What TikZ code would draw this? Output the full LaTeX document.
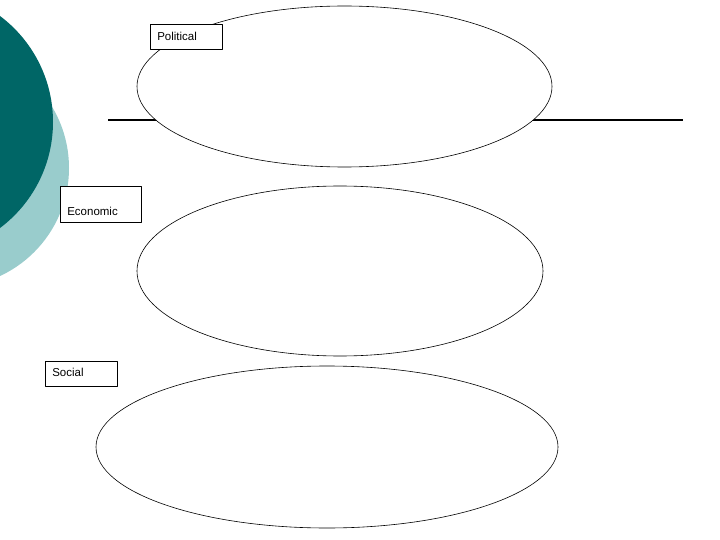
\documentclass[tikz,border=0pt]{standalone}
\usepackage{fontspec}
\setmainfont{Liberation Sans}
\definecolor{tealdark}{RGB}{0,102,102}
\definecolor{teallight}{RGB}{153,204,204}
\begin{document}
\begin{tikzpicture}[x=1pt, y=-1pt, font=\fontsize{11.5}{13}\selectfont, line join=round,
			tag/.style={draw, fill=white, line width=0.6pt, inner ysep=0pt, inner xsep=7pt, anchor=north west, align=left},
			blob/.style={draw, fill=white, line width=0.6pt}]
			\useasboundingbox (0,0) rectangle (720,540);
			\begin{scope}
				\clip (0,0) rectangle (720,540);
				\fill[teallight] (-50,168) circle (119);
				\fill[tealdark] (-79.5,122) circle (132.5);
			\end{scope}
			\draw[line width=1.6pt] (108,120)--(683,120);
			\draw[blob] (344.5,86.5) ellipse (207.5 and 80.5);
			\draw[blob] (340,271) ellipse (203 and 85);
			\draw[blob] (327,447) ellipse (231 and 81);
			\node[tag, text width=58pt, text height=16pt, text depth=9pt] (political) at (150,24) {Political};
			\node[tag, text width=67pt, text height=29pt, text depth=7pt] (economic) at (60,186) {Economic};
			\node[tag, text width=58pt, text height=15pt, text depth=10pt] (social) at (45,361) {Social};
		\end{tikzpicture}
\end{document}
